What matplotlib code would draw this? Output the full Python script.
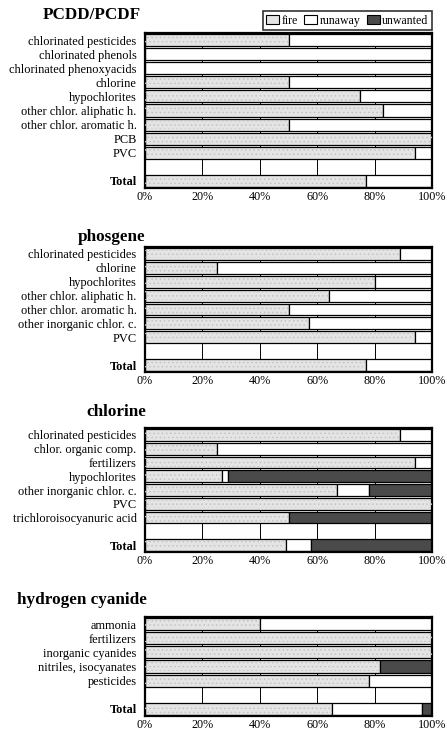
import matplotlib.pyplot as plt
from matplotlib.patches import Patch

plt.rcParams['font.family'] = ['Liberation Serif', 'DejaVu Serif']
plt.rcParams['hatch.linewidth'] = 0.6

# data per panel: categories, fire / runaway / unwanted shares in %
pcdd_cats = ['chlorinated pesticides', 'chlorinated phenols', 'chlorinated phenoxyacids',
             'chlorine', 'hypochlorites', 'other chlor. aliphatic h.',
             'other chlor. aromatic h.', 'PCB', 'PVC']
pcdd_fire = [50, 0, 0, 50, 75, 83, 50, 100, 94]
pcdd_runaway = [50, 100, 100, 50, 25, 17, 50, 0, 6]
pcdd_unwanted = [0, 0, 0, 0, 0, 0, 0, 0, 0]
pcdd_total = [77, 23, 0]

phos_cats = ['chlorinated pesticides', 'chlorine', 'hypochlorites',
             'other chlor. aliphatic h.', 'other chlor. aromatic h.',
             'other inorganic chlor. c.', 'PVC']
phos_fire = [89, 25, 80, 64, 50, 57, 94]
phos_runaway = [11, 75, 20, 36, 50, 43, 6]
phos_unwanted = [0, 0, 0, 0, 0, 0, 0]
phos_total = [77, 23, 0]

chl_cats = ['chlorinated pesticides', 'chlor. organic comp.', 'fertilizers',
            'hypochlorites', 'other inorganic chlor. c.', 'PVC',
            'trichloroisocyanuric acid']
chl_fire = [89, 25, 94, 27, 67, 100, 50]
chl_runaway = [11, 75, 6, 2, 11, 0, 0]
chl_unwanted = [0, 0, 0, 71, 22, 0, 50]
chl_total = [49, 9, 42]

hcn_cats = ['ammonia', 'fertilizers', 'inorganic cyanides',
            'nitriles, isocyanates', 'pesticides']
hcn_fire = [40, 100, 100, 82, 78]
hcn_runaway = [60, 0, 0, 0, 22]
hcn_unwanted = [0, 0, 0, 18, 0]
hcn_total = [65, 31.5, 3.5]

panels = [
    ('PCDD/PCDF', pcdd_cats, pcdd_fire, pcdd_runaway, pcdd_unwanted, pcdd_total),
    ('phosgene', phos_cats, phos_fire, phos_runaway, phos_unwanted, phos_total),
    ('chlorine', chl_cats, chl_fire, chl_runaway, chl_unwanted, chl_total),
    ('hydrogen cyanide', hcn_cats, hcn_fire, hcn_runaway, hcn_unwanted, hcn_total),
]

# axes rectangles (pixel top/bottom in a 447x731 figure)
W, H = 447, 731
boxes = [(33, 188), (247, 372), (428, 552), (617, 716)]
title_pos = [(141, 15), (145, 237), (146, 412), (147, 600)]

c_fire = '#e4e4e4'
c_run = 'white'
c_unw = '#4a4a4a'

fig = plt.figure(figsize=(W / 100, H / 100), dpi=100)

for (title, cats, fire, run, unw, total), (top, bot), (tx, ty) in zip(panels, boxes, title_pos):
    ax = fig.add_axes([145 / W, 1 - bot / H, 287 / W, (bot - top) / H])
    labels = cats + ['', 'Total']
    f = fire + [0, total[0]]
    r = run + [0, total[1]]
    u = unw + [0, total[2]]
    y = list(range(len(labels)))
    gap_row = len(cats)
    kw = dict(height=0.86, edgecolor='black', linewidth=0.9, zorder=2)
    for i in y:
        if i == gap_row:
            continue
        if f[i] > 0:
            ax.barh(i, f[i], color=c_fire, **kw)
            # faint texture like the scanned original
            ax.barh(i, f[i], height=0.6, fill=False, hatch='....', edgecolor='#c4c4c4',
                    linewidth=0, zorder=3)
        if r[i] > 0:
            ax.barh(i, r[i], left=f[i], color=c_run, **kw)
        if u[i] > 0:
            ax.barh(i, u[i], left=f[i] + r[i], color=c_unw, **kw)
    for gx in [20, 40, 60, 80]:
        ax.axvline(gx, color='black', linewidth=0.7, zorder=1)
    ax.set_xlim(0, 100)
    ax.set_ylim(len(labels) - 0.5, -0.5)
    ax.set_yticks(y)
    ax.set_yticklabels(labels, fontsize=8.9)
    ax.get_yticklabels()[-1].set_fontweight('bold')
    ax.set_xticks([0, 20, 40, 60, 80, 100])
    ax.set_xticklabels(['0%', '20%', '40%', '60%', '80%', '100%'], fontsize=8.7)
    ax.tick_params(axis='x', length=0, pad=2)
    ax.tick_params(axis='y', length=0, pad=6)
    for s in ax.spines.values():
        s.set_linewidth(1.6)
    fig.text(tx / W, 1 - ty / H, title, ha='right', va='center',
             fontsize=12.3, fontweight='bold')

handles = [Patch(facecolor=c_fire, edgecolor='black', linewidth=0.8, label='fire'),
           Patch(facecolor=c_run, edgecolor='black', linewidth=0.8, label='runaway'),
           Patch(facecolor=c_unw, edgecolor='black', linewidth=0.8, label='unwanted')]
leg = fig.legend(handles=handles, loc='upper right', bbox_to_anchor=(432 / W, 1 - 11 / H),
                 ncol=3, fontsize=8.6, frameon=True, fancybox=False,
                 handlelength=1.1, handleheight=0.8, handletextpad=0.2,
                 columnspacing=0.5, borderpad=0.3, borderaxespad=0)
leg.get_frame().set_edgecolor('black')
leg.get_frame().set_linewidth(1.2)

fig.savefig('out.png', dpi=100)
